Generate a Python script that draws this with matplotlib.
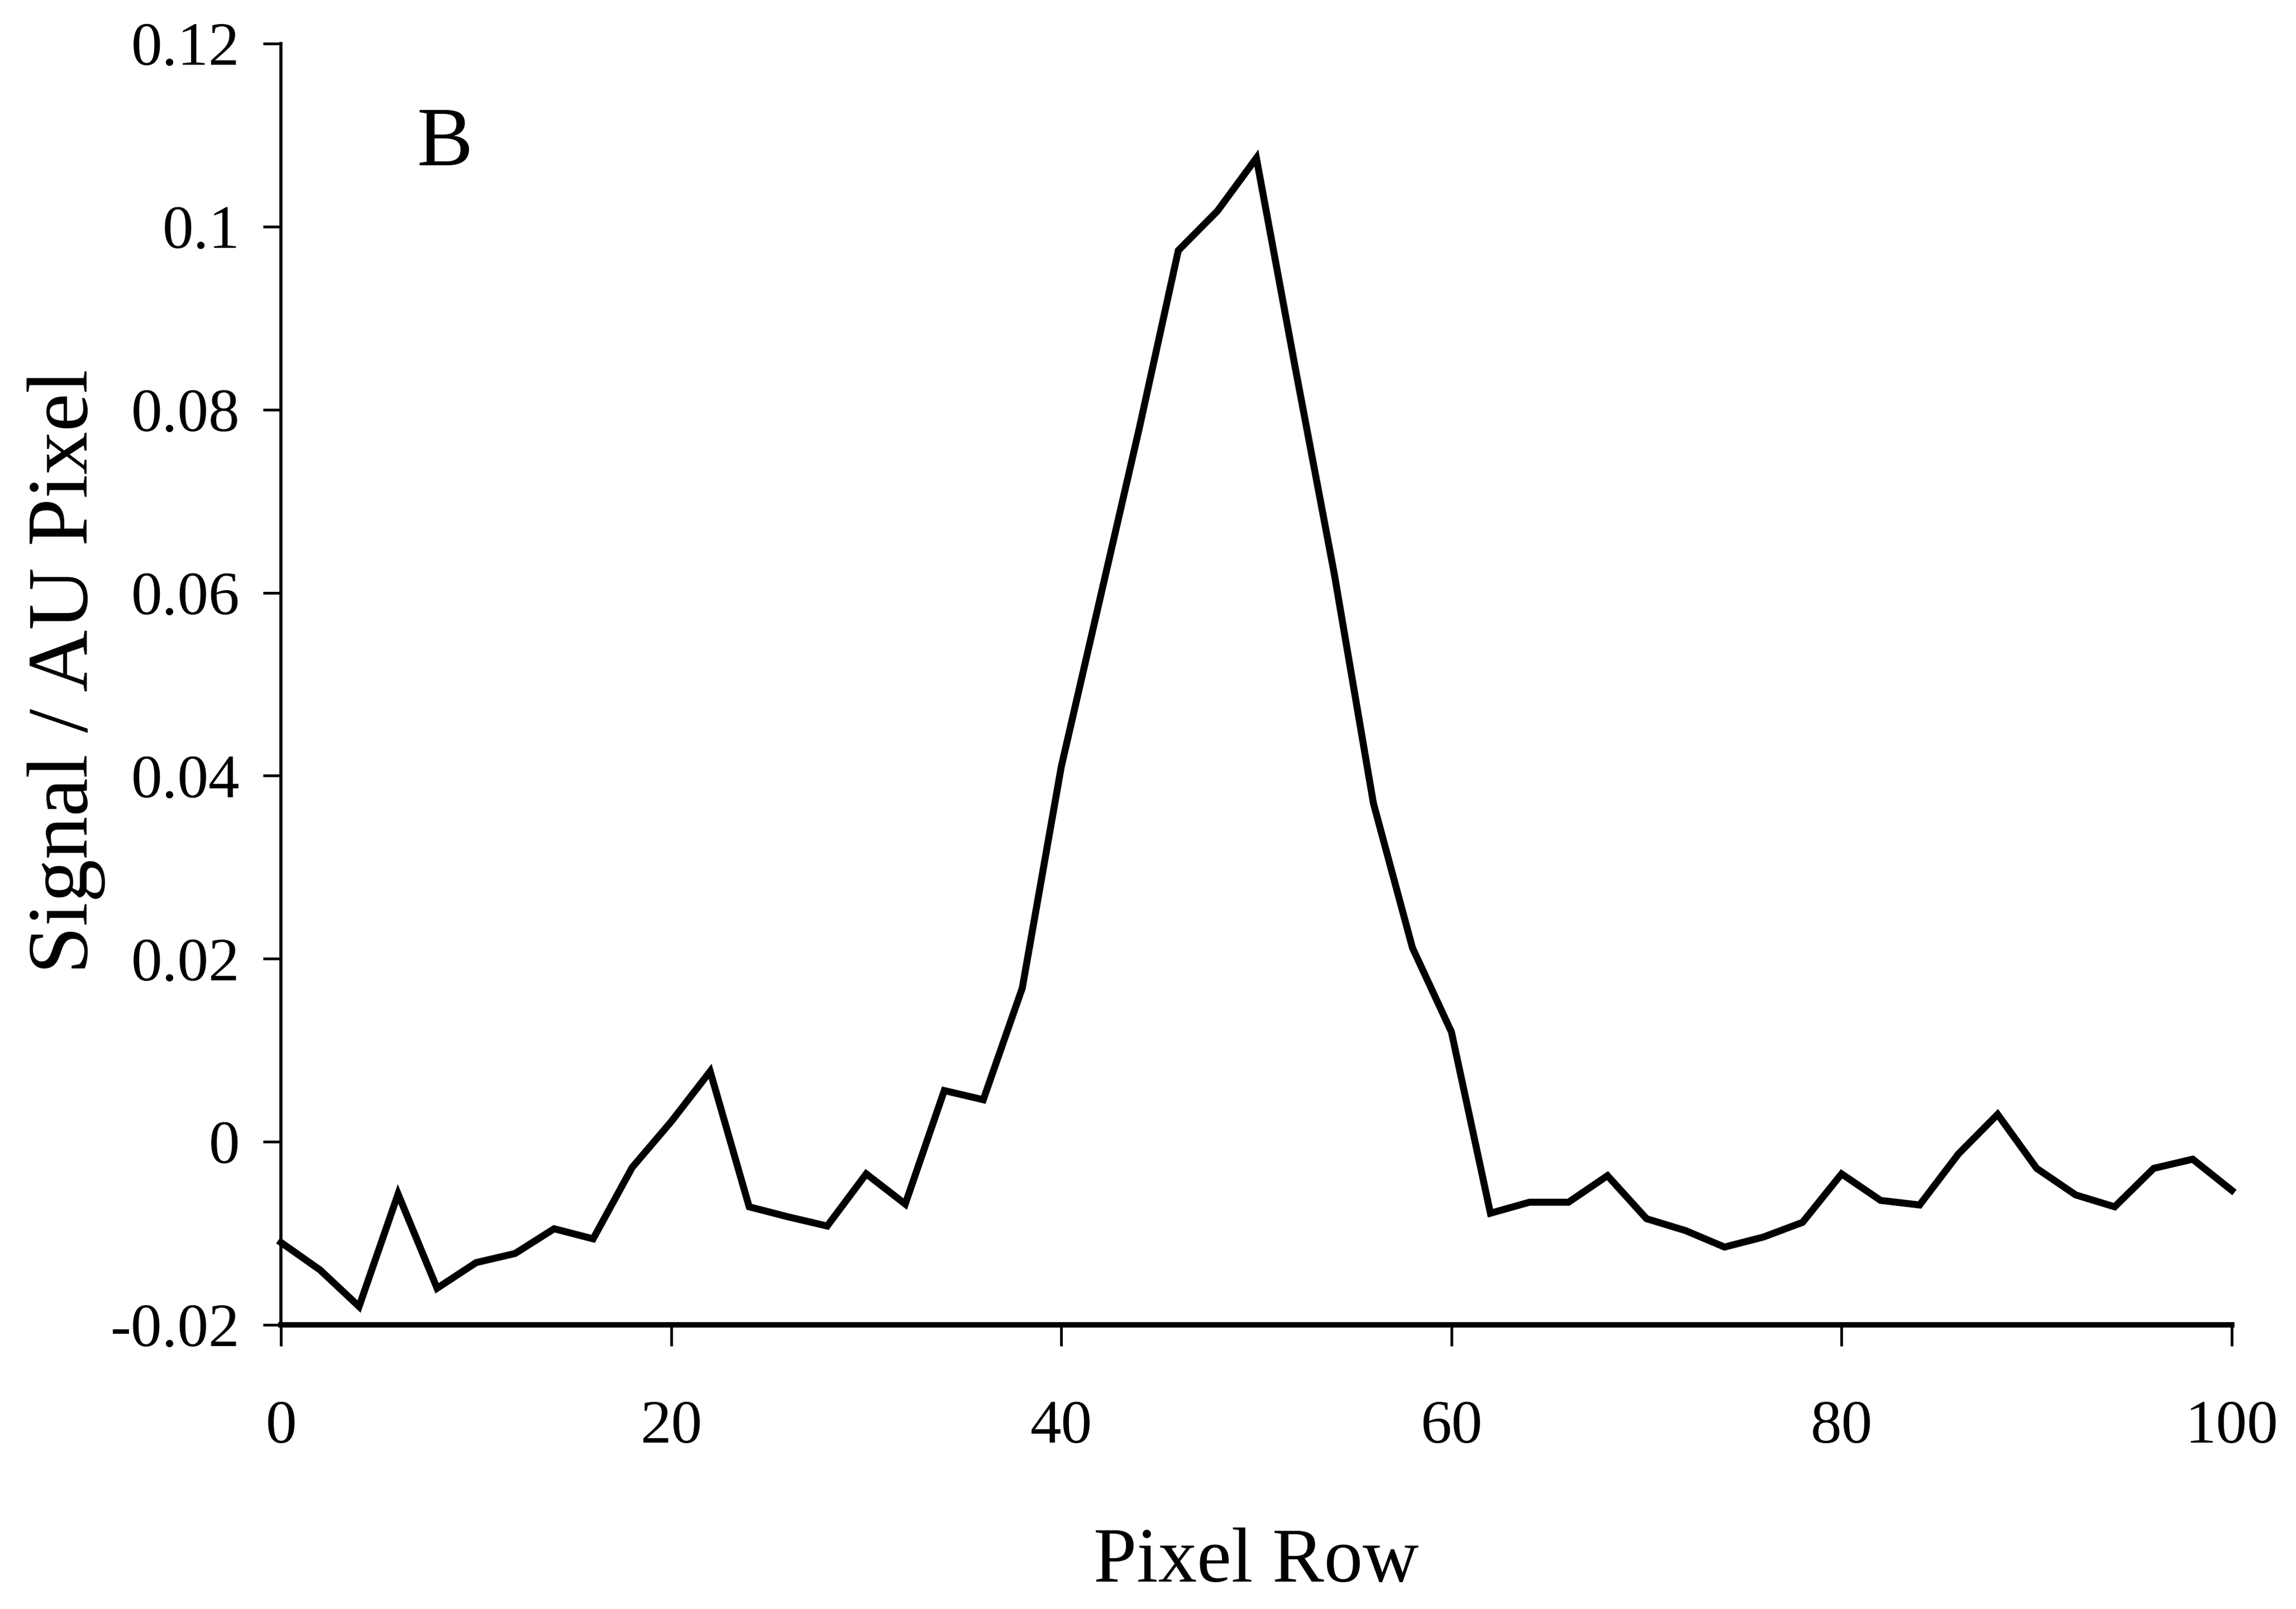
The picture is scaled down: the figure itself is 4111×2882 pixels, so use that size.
import matplotlib
matplotlib.use("Agg")
import matplotlib.pyplot as plt
from matplotlib.ticker import FixedLocator, FixedFormatter

# Row profile of the signal, sampled every second pixel row
pixel_row = list(range(0, 101, 2))
signal = [
    -0.0110, -0.0140, -0.0180, -0.0057, -0.0160, -0.0132, -0.0122, -0.0095,
    -0.0106, -0.0028, 0.0022, 0.0077, -0.0071, -0.0082, -0.0092, -0.0035,
    -0.0068, 0.0056, 0.0046, 0.0168, 0.0410, 0.0595, 0.0780, 0.0974,
    0.1017, 0.1075, 0.0845, 0.0620, 0.0370, 0.0212, 0.0120, -0.0078,
    -0.0066, -0.0066, -0.0037, -0.0084, -0.0097, -0.0115, -0.0104, -0.0088,
    -0.0035, -0.0064, -0.0069, -0.0013, 0.0030, -0.0029, -0.0058, -0.0071,
    -0.0029, -0.0019, -0.0053,
]

x_ticks = [0, 20, 40, 60, 80, 100]
x_tick_labels = ["0", "20", "40", "60", "80", "100"]
y_ticks = [-0.02, 0.0, 0.02, 0.04, 0.06, 0.08, 0.10, 0.12]
y_tick_labels = ["-0.02", "0", "0.02", "0.04", "0.06", "0.08", "0.1", "0.12"]

panel_label = "B"
x_label = "Pixel Row"
y_label = "Signal / AU Pixel"

plt.rcParams["font.family"] = ["Liberation Serif", "DejaVu Serif"]

fig = plt.figure(figsize=(41.11, 28.82), dpi=100)
ax = fig.add_axes([0.1224, 0.1766, 0.8496, 0.7963])

ax.plot(pixel_row, signal, color="black", linewidth=9, solid_joinstyle="miter",
        clip_on=False)

ax.set_xlim(0, 100)
ax.set_ylim(-0.02, 0.12)

ax.spines["top"].set_visible(False)
ax.spines["right"].set_visible(False)
ax.spines["left"].set_linewidth(4)
ax.spines["bottom"].set_linewidth(7)

ax.xaxis.set_major_locator(FixedLocator(x_ticks))
ax.xaxis.set_major_formatter(FixedFormatter(x_tick_labels))
ax.yaxis.set_major_locator(FixedLocator(y_ticks))
ax.yaxis.set_major_formatter(FixedFormatter(y_tick_labels))

ax.tick_params(axis="x", direction="out", length=27, width=3.5, pad=70,
               labelsize=80)
ax.tick_params(axis="y", direction="out", length=23, width=3.5, pad=30,
               labelsize=80)

ax.set_xlabel(x_label, fontsize=100)
ax.xaxis.set_label_coords(0.5, -0.186)
ax.xaxis.label.set_va("center")

ax.set_ylabel(y_label, fontsize=111)
ax.yaxis.set_label_coords(-0.110, 0.51)
ax.yaxis.label.set_va("center")

ax.text(8.4, 0.1089, panel_label, fontsize=108, ha="center", va="center")

fig.savefig("out.png", dpi=100, facecolor="white")
